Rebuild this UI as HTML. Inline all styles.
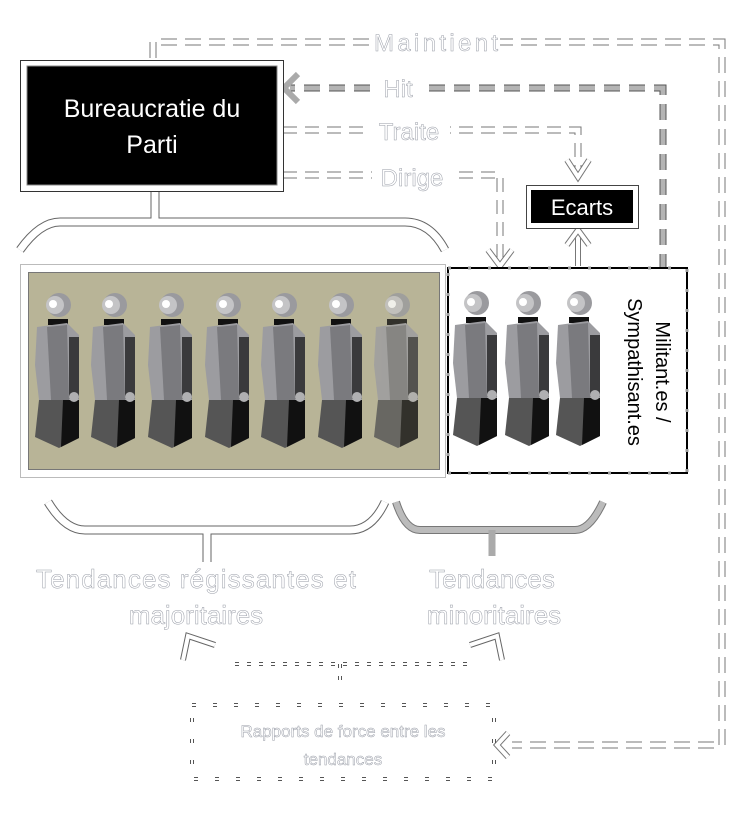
<!DOCTYPE html>
<html><head><style>html,body{margin:0;padding:0;background:#fff}svg{display:block}</style></head>
<body>
<svg width="741" height="821" viewBox="0 0 741 821" xmlns="http://www.w3.org/2000/svg">
<defs>
<g id="fig">
  <circle cx="2" cy="0" r="12" fill="#9a9a9e"/>
  <circle cx="-2" cy="0" r="9" fill="#c4c4c6"/>
  <circle cx="-4" cy="-1" r="4" fill="#fff"/>
  <rect x="-9" y="14" width="20" height="6" fill="#111"/>
  <polygon points="-20,22 10,18 22,30 22,95 -18,95 -22,60" fill="#9c9ca0"/>
  <polygon points="-10,22 10,20 12,95 -6,95" fill="#7a7a7e"/>
  <rect x="12" y="32" width="10" height="62" fill="#3a3a3c"/>
  <polygon points="-18,95 22,95 22,133 2,143 -22,132" fill="#555"/>
  <polygon points="6,95 22,95 22,133 4,142" fill="#111"/>
  <circle cx="17" cy="92" r="5" fill="#b0b0b2"/>
</g>
</defs>
<g fill="none" stroke-linecap="butt">
 <path d="M153,58 V42 H722 V745 H512" stroke="#777" stroke-width="7" stroke-dasharray="16,8"/>
 <path d="M153,58 V42 H722 V745 H512" stroke="#fff" stroke-width="5" stroke-dasharray="16,8"/>
 <polyline points="508,733 497,745 508,757" stroke="#777" stroke-width="6"/>
 <polyline points="508,733 497,745 508,757" stroke="#fff" stroke-width="4"/>
 <path d="M663,270 V88 H290" stroke="#555" stroke-width="7" stroke-dasharray="16,9"/>
 <path d="M663,270 V88 H290" stroke="#b4b4b4" stroke-width="5" stroke-dasharray="16,9"/>
 <polyline points="298,74 284,88 298,102" stroke="#aaa" stroke-width="6"/>
 <path d="M283,130 H578 V168" stroke="#777" stroke-width="7" stroke-dasharray="14,8"/>
 <path d="M283,130 H578 V168" stroke="#fff" stroke-width="5" stroke-dasharray="14,8"/>
 <polyline points="567,160 578,177 589,160" stroke="#777" stroke-width="6"/>
 <polyline points="567,160 578,177 589,160" stroke="#fff" stroke-width="4"/>
 <path d="M283,175 H500 V258" stroke="#777" stroke-width="7" stroke-dasharray="14,8"/>
 <path d="M283,175 H500 V258" stroke="#fff" stroke-width="5" stroke-dasharray="14,8"/>
 <polyline points="488,250 500,266 512,250" stroke="#777" stroke-width="6"/>
 <polyline points="488,250 500,266 512,250" stroke="#fff" stroke-width="4"/>
 <line x1="578" y1="236" x2="578" y2="266" stroke="#777" stroke-width="6"/>
 <line x1="578" y1="236" x2="578" y2="266" stroke="#fff" stroke-width="4"/>
 <polyline points="567,245 578,230 589,245" stroke="#777" stroke-width="6"/>
 <polyline points="567,245 578,230 589,245" stroke="#fff" stroke-width="4"/>
 <path d="M20,250 Q40,222 60,222 H405 Q430,222 445,250 M155,222 V190" stroke="#666" stroke-width="9"/>
 <path d="M20,250 Q40,222 60,222 H405 Q430,222 445,250 M155,222 V190" stroke="#fff" stroke-width="7"/>
 <path d="M48,502 Q65,530 85,530 H350 Q372,530 385,502 M207,530 V562" stroke="#666" stroke-width="9"/>
 <path d="M48,502 Q65,530 85,530 H350 Q372,530 385,502 M207,530 V562" stroke="#fff" stroke-width="7"/>
 <path d="M396,502 Q405,530 420,530 H575 Q590,530 603,502" stroke="#777" stroke-width="8"/>
 <path d="M396,502 Q405,530 420,530 H575 Q590,530 603,502" stroke="#bbb" stroke-width="6"/>
 <line x1="492" y1="530" x2="492" y2="556" stroke="#aaa" stroke-width="7"/>
 <path d="M235,664 H475 M340,664 V686" stroke="#555" stroke-width="4" stroke-dasharray="4,8"/>
 <path d="M235,664 H475 M340,664 V686" stroke="#fff" stroke-width="2" stroke-dasharray="4,8"/>
 <polyline points="215,645 188,636 183,660" stroke="#666" stroke-width="6"/>
 <polyline points="215,645 188,636 183,660" stroke="#fff" stroke-width="4"/>
 <polyline points="470,645 497,636 502,660" stroke="#666" stroke-width="6"/>
 <polyline points="470,645 497,636 502,660" stroke="#fff" stroke-width="4"/>
 <rect x="192" y="705" width="302" height="74" stroke="#555" stroke-width="4" stroke-dasharray="4,17"/>
 <rect x="192" y="705" width="302" height="74" stroke="#fff" stroke-width="2" stroke-dasharray="4,17"/>
</g>
<rect x="20.5" y="60.5" width="263" height="131" fill="#fff" stroke="#333"/>
<rect x="27" y="66" width="250" height="119" fill="#000" stroke="#888"/>
<text x="152" y="117" fill="#fff" font-family="Liberation Sans, sans-serif" font-size="25" text-anchor="middle">Bureaucratie du</text>
<text x="152" y="153" fill="#fff" font-family="Liberation Sans, sans-serif" font-size="25" text-anchor="middle">Parti</text>
<rect x="526.5" y="185.5" width="112" height="43" fill="#fff" stroke="#444"/>
<rect x="531" y="190" width="102" height="33" fill="#000"/>
<text x="582" y="215" fill="#fff" font-family="Liberation Sans, sans-serif" font-size="22" text-anchor="middle">Ecarts</text>
<rect x="20.5" y="264.5" width="425" height="213" fill="#fff" stroke="#bbb"/>
<rect x="28.5" y="272.5" width="411" height="197" fill="#b8b497" stroke="#777"/>
<use href="#fig" x="57" y="305"/><use href="#fig" x="113" y="305"/><use href="#fig" x="170" y="305"/>
<use href="#fig" x="227" y="305"/><use href="#fig" x="283" y="305"/><use href="#fig" x="340" y="305"/>
<use href="#fig" x="396" y="305" opacity="0.8"/>
<rect x="448" y="268" width="239" height="205" fill="#fff" stroke="#000" stroke-width="2"/>
<rect x="448" y="268" width="239" height="205" fill="none" stroke="#999" stroke-width="3" stroke-dasharray="3,17"/>
<use href="#fig" x="475" y="303"/><use href="#fig" x="527" y="303"/><use href="#fig" x="578" y="303"/>
<g font-family="Liberation Sans, sans-serif" font-size="20" fill="#000" text-anchor="middle">
<text transform="translate(656,372) rotate(90)">Militant.es /</text>
<text transform="translate(628,372) rotate(90)">Sympathisant.es</text>
</g>
<g font-family="Liberation Sans, sans-serif" fill="#fff" stroke="#9a9ea8" stroke-width="0.5" text-anchor="middle">
<rect x="372" y="30" width="128" height="24" fill="#fff" stroke="none"/>
<text x="436" y="51" font-size="24" textLength="124">Maintient</text>
<rect x="375" y="76" width="45" height="24" fill="#fff" stroke="none"/>
<text x="398" y="97" font-size="24">Hit</text>
<rect x="368" y="118" width="82" height="24" fill="#fff" stroke="none"/>
<text x="409" y="140" font-size="24">Traite</text>
<rect x="372" y="163" width="80" height="24" fill="#fff" stroke="none"/>
<text x="412" y="186" font-size="24">Dirige</text>
<text x="196" y="588" font-size="26" textLength="320">Tendances régissantes et</text>
<text x="196" y="624" font-size="26">majoritaires</text>
<text x="492" y="588" font-size="26">Tendances</text>
<text x="494" y="624" font-size="26">minoritaires</text>
<text x="343" y="737" font-size="17">Rapports de force entre les</text>
<text x="343" y="765" font-size="17">tendances</text>
</g>
</svg>
</body></html>
